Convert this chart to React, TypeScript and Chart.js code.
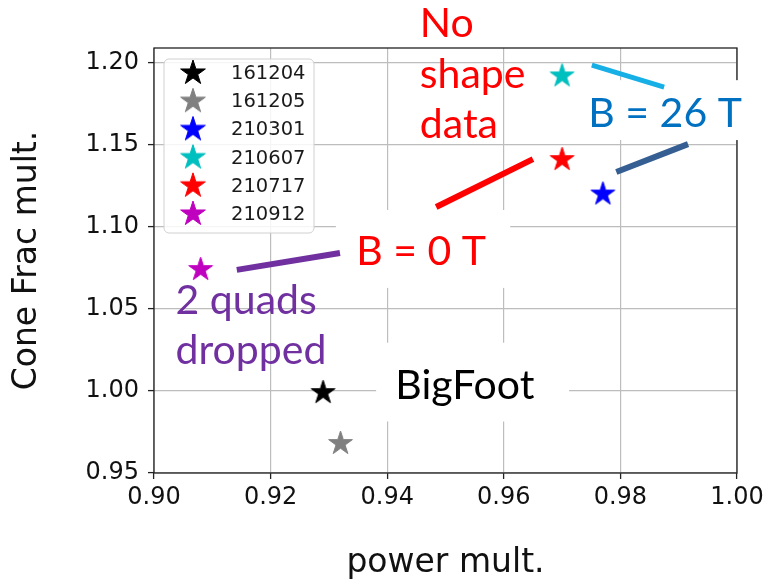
import React, { useEffect, useRef } from 'react';
import { Chart, registerables } from 'chart.js';

Chart.register(...registerables);

// ---- data ----
const seriesLabels = ['161204', '161205', '210301', '210607', '210717', '210912'];
const seriesColors = ['#000000', '#808080', '#0000ff', '#00bfbf', '#ff0000', '#bf00bf'];
const powerMult = [0.929, 0.932, 0.977, 0.970, 0.970, 0.908];
const coneFracMult = [0.999, 0.968, 1.120, 1.192, 1.141, 1.074];
const xTicks = [0.90, 0.92, 0.94, 0.96, 0.98, 1.00];
const yTicks = [0.95, 1.00, 1.05, 1.10, 1.15, 1.20];
const xRange = [0.90, 1.00];
const yRange = [0.95, 1.209];
const xTitle = 'power mult.';
const yTitle = 'Cone Frac mult.';

// ---- annotation overlays (data coordinates) ----
const annotationBoxes = [
  { x: [0.9727, 1.0058], y: [1.1894, 1.1529] },
  { x: [0.9312, 0.9611], y: [1.1103, 1.0628] },
  { x: [0.9381, 0.9712], y: [1.0294, 0.9814] },
];
const annotationLines = [
  { from: [0.9751, 1.1985], to: [0.9875, 1.1851], color: '#16b0e6', width: 5 },
  { from: [0.9793, 1.1334], to: [0.9916, 1.1504], color: '#355f93', width: 6 },
  { from: [0.9484, 1.1121], to: [0.9650, 1.1413], color: '#ff0000', width: 6 },
  { from: [0.9142, 1.0738], to: [0.9319, 1.0841], color: '#7030a0', width: 6 },
];
const annotationTexts = [
  { lines: ['No', 'shape', 'data'], x: 0.9456, y: 1.2156, color: '#ff0000' },
  { lines: ['B = 26 T'], x: 0.9745, y: 1.1608, color: '#0070c0' },
  { lines: ['B = 0 T'], x: 0.9347, y: 1.0768, color: '#ff0000' },
  { lines: ['BigFoot'], x: 0.9414, y: 0.9952, color: '#000000' },
  { lines: ['2 quads', 'dropped'], x: 0.9037, y: 1.0470, color: '#7030a0' },
];

const ANNOT_FONT = '41px Lato';
const ANNOT_LINE = 50.5;

function makeStar(color: string, R: number): HTMLCanvasElement {
  const size = Math.ceil(2 * R + 6);
  const c = document.createElement('canvas');
  c.width = size;
  c.height = size;
  const ctx = c.getContext('2d')!;
  const cx = size / 2;
  const cy = size / 2;
  ctx.beginPath();
  for (let k = 0; k < 10; k++) {
    const ang = -Math.PI / 2 + (k * Math.PI) / 5;
    const r = k % 2 === 0 ? R : R * 0.381966;
    const px = cx + r * Math.cos(ang);
    const py = cy + r * Math.sin(ang);
    if (k === 0) ctx.moveTo(px, py);
    else ctx.lineTo(px, py);
  }
  ctx.closePath();
  ctx.fillStyle = color;
  ctx.fill();
  ctx.strokeStyle = color;
  ctx.lineWidth = 1;
  ctx.lineJoin = 'miter';
  ctx.stroke();
  return c;
}

export default function App() {
  const ref = useRef<HTMLCanvasElement>(null);

  useEffect(() => {
    const canvas = ref.current!;
    const stars = seriesColors.map((c) => makeStar(c, 12.5));
    const legendStars = seriesColors.map((c) => makeStar(c, 13));

    const framePlugin = {
      id: 'frame',
      beforeDatasetsDraw(chart: any) {
        const { ctx, chartArea: a } = chart;
        ctx.save();
        ctx.strokeStyle = '#222';
        ctx.lineWidth = 1.3;
        ctx.strokeRect(a.left, a.top, a.right - a.left, a.bottom - a.top);
        ctx.restore();
      },
    };

    const legendPlugin = {
      id: 'starLegend',
      afterDatasetsDraw(chart: any) {
        const { ctx, chartArea: a } = chart;
        const bx = a.left + 10;
        const by = a.top + 11;
        const bw = 150;
        const bh = 174;
        ctx.save();
        ctx.beginPath();
        ctx.roundRect(bx, by, bw, bh, 5);
        ctx.fillStyle = 'rgba(255,255,255,0.85)';
        ctx.fill();
        ctx.strokeStyle = '#d0d0d0';
        ctx.lineWidth = 1;
        ctx.stroke();
        ctx.font = '19.5px "DejaVu Sans"';
        ctx.textBaseline = 'middle';
        ctx.textAlign = 'left';
        ctx.fillStyle = '#1a1a1a';
        seriesLabels.forEach((lab, i) => {
          const cy = by + 14 + i * 28.2;
          const img = legendStars[i];
          ctx.drawImage(img, bx + 29 - img.width / 2, cy - img.height / 2);
          ctx.fillText(lab, bx + 67, cy + 1);
        });
        ctx.restore();
      },
    };

    const annotationPlugin = {
      id: 'annotations',
      afterDraw(chart: any) {
        const { ctx } = chart;
        const xs = chart.scales.x;
        const ys = chart.scales.y;
        const X = (v: number) => xs.getPixelForValue(v);
        const Y = (v: number) => ys.getPixelForValue(v);
        ctx.save();
        ctx.fillStyle = '#ffffff';
        annotationBoxes.forEach((b) => {
          const x0 = X(b.x[0]);
          const x1 = X(b.x[1]);
          const y0 = Y(b.y[0]);
          const y1 = Y(b.y[1]);
          ctx.fillRect(x0, y0, x1 - x0, y1 - y0);
        });
        ctx.lineCap = 'butt';
        annotationLines.forEach((l) => {
          ctx.beginPath();
          ctx.moveTo(X(l.from[0]), Y(l.from[1]));
          ctx.lineTo(X(l.to[0]), Y(l.to[1]));
          ctx.strokeStyle = l.color;
          ctx.lineWidth = l.width;
          ctx.stroke();
        });
        ctx.font = ANNOT_FONT;
        ctx.textAlign = 'left';
        ctx.textBaseline = 'alphabetic';
        annotationTexts.forEach((t) => {
          ctx.fillStyle = t.color;
          t.lines.forEach((line, i) => {
            ctx.fillText(line, X(t.x), Y(t.y) + i * ANNOT_LINE);
          });
        });
        ctx.restore();
      },
    };

    const chart = new Chart(canvas, {
      type: 'scatter',
      data: {
        datasets: seriesLabels.map((label, i) => ({
          label,
          data: [{ x: powerMult[i], y: coneFracMult[i] }],
          pointStyle: stars[i] as any,
          backgroundColor: seriesColors[i],
          borderColor: seriesColors[i],
          pointRadius: 12,
        })),
      },
      options: {
        responsive: false,
        animation: false,
        devicePixelRatio: 1,
        events: [],
        layout: { padding: { left: 0, right: 34, top: 48, bottom: 0 } },
        plugins: { legend: { display: false }, tooltip: { enabled: false } },
        scales: {
          x: {
            type: 'linear',
            min: xRange[0],
            max: xRange[1],
            afterFit: (s: any) => {
              s.height = 107;
            },
            afterBuildTicks: (s: any) => {
              s.ticks = xTicks.map((v) => ({ value: v }));
            },
            ticks: {
              callback: (v: any) => Number(v).toFixed(2),
              font: { family: 'DejaVu Sans', size: 24 },
              color: '#111',
              padding: 4,
              maxRotation: 0,
              autoSkip: false,
            },
            grid: {
              color: '#bdbdbd',
              lineWidth: 1.2,
              tickLength: 6,
              tickColor: '#222',
              tickWidth: 1.3,
            },
            border: { display: false },
            title: {
              display: true,
              text: xTitle,
              color: '#111',
              font: { family: 'DejaVu Sans', size: 33, lineHeight: 1.2 },
              padding: { top: 0, bottom: -3 },
            },
          },
          y: {
            type: 'linear',
            min: yRange[0],
            max: yRange[1],
            afterFit: (s: any) => {
              s.width = 154;
            },
            afterBuildTicks: (s: any) => {
              s.ticks = yTicks.map((v) => ({ value: v }));
            },
            ticks: {
              callback: (v: any) => Number(v).toFixed(2),
              font: { family: 'DejaVu Sans', size: 24 },
              color: '#111',
              padding: 9,
              autoSkip: false,
            },
            grid: {
              color: '#bdbdbd',
              lineWidth: 1.2,
              tickLength: 6,
              tickColor: '#222',
              tickWidth: 1.3,
            },
            border: { display: false },
            title: {
              display: true,
              text: yTitle,
              color: '#111',
              font: { family: 'DejaVu Sans', size: 33, lineHeight: 1.2 },
              padding: { top: 8, bottom: 0 },
            },
          },
        },
      } as any,
      plugins: [framePlugin, legendPlugin, annotationPlugin],
    });

    let alive = true;
    if ((document as any).fonts && (document as any).fonts.load) {
      Promise.all([
        (document as any).fonts.load(ANNOT_FONT),
        (document as any).fonts.load('24px "DejaVu Sans"'),
      ]).then(() => {
        if (alive) chart.update();
      }).catch(() => {});
    }

    return () => {
      alive = false;
      chart.destroy();
    };
  }, []);

  return (
    <div style={{ position: 'absolute', left: 0, top: 0, width: 771, height: 580, background: '#ffffff' }}>
      <canvas ref={ref} width={771} height={580} style={{ display: 'block' }} />
    </div>
  );
}
